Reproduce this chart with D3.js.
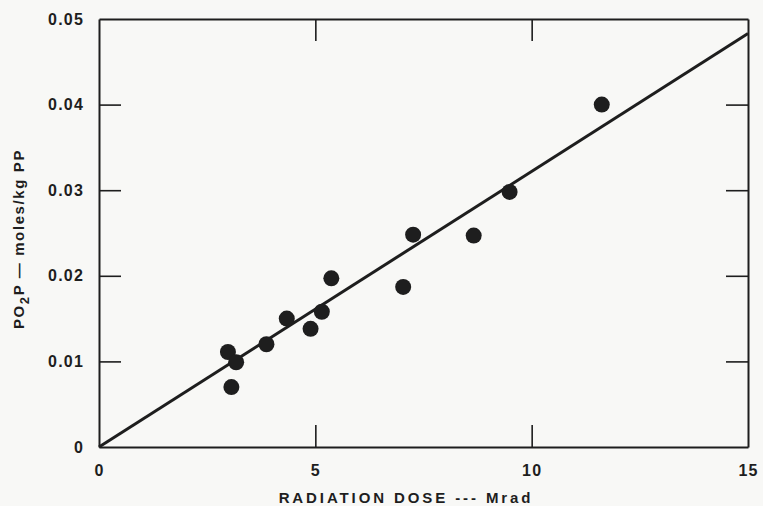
<!DOCTYPE html>
<html><head><meta charset="utf-8">
<script src="https://cdn.jsdelivr.net/npm/d3@7"></script>
<style>
html,body{margin:0;padding:0;background:#f8f8f6;}
svg{display:block;}
text{font-family:"Liberation Sans",Arial,Helvetica,sans-serif;fill:#1e1e1e;}
</style></head>
<body>
<svg id="chart" width="763" height="506"></svg>
<script>
// Data
const doseMrad = [2.98, 3.17, 3.06, 3.87, 4.34, 4.89, 5.15, 5.37, 7.03, 7.26, 8.66, 9.49, 11.62];
const po2pMolesPerKg = [0.0111, 0.0099, 0.0070, 0.0120, 0.0150, 0.0138, 0.0158, 0.0197, 0.0187, 0.0248, 0.0247, 0.0298, 0.0400];
const fitLineX = [0, 15];
const fitLineY = [0, 0.0483];
const xTickValues = [0, 5, 10, 15];
const yTickValues = [0, 0.01, 0.02, 0.03, 0.04, 0.05];
const yTickLabels = ["0", "0.01", "0.02", "0.03", "0.04", "0.05"];
const xTitle = "RADIATION DOSE --- Mrad";

const W = 763, H = 506;
const m = {left: 99, right: 15, top: 19, bottom: 59};
const ink = "#1e1e1e";
const svg = d3.select("#chart");

const x = d3.scaleLinear().domain([0, 15]).range([m.left, W - m.right]);
const y = d3.scaleLinear().domain([0, 0.05]).range([H - m.bottom, m.top]);

const tickLen = 22;
const fmtY = d => yTickLabels[yTickValues.indexOf(d)];

// Bottom axis (ticks inward)
const gB = svg.append("g").attr("transform", `translate(0,${H - m.bottom})`)
  .call(d3.axisBottom(x).tickValues(xTickValues).tickSizeInner(-tickLen).tickSizeOuter(0).tickPadding(18).tickFormat(d3.format("d")));
// Top axis
const gT = svg.append("g").attr("transform", `translate(0,${m.top})`)
  .call(d3.axisTop(x).tickValues(xTickValues).tickSizeInner(-tickLen).tickSizeOuter(0).tickFormat(""));
// Left axis
const gL = svg.append("g").attr("transform", `translate(${m.left},0)`)
  .call(d3.axisLeft(y).tickValues(yTickValues).tickSizeInner(-tickLen).tickSizeOuter(0).tickPadding(15).tickFormat(fmtY));
// Right axis
const gR = svg.append("g").attr("transform", `translate(${W - m.right},0)`)
  .call(d3.axisRight(y).tickValues(yTickValues).tickSizeInner(-tickLen).tickSizeOuter(0).tickFormat(""));

[gB, gT, gL, gR].forEach(g => {
  g.select(".domain").attr("stroke", ink).attr("stroke-width", 2);
  g.selectAll(".tick line").attr("stroke", ink).attr("stroke-width", 1.6);
  g.selectAll(".tick text").attr("font-size", 16).attr("font-weight", "bold")
    .attr("font-family", "'Liberation Sans', Arial, sans-serif").attr("fill", ink).style("letter-spacing", "1.2px");
});
// remove end ticks at frame corners
gB.selectAll(".tick line").filter(d => d === 0 || d === 15).remove();
gT.selectAll(".tick line").filter(d => d === 0 || d === 15).remove();
gL.selectAll(".tick line").filter(d => d === 0 || d === 0.05).remove();
gR.selectAll(".tick line").filter(d => d === 0 || d === 0.05).remove();

// Fit line
const line = d3.line().x(d => x(d[0])).y(d => y(d[1]));
svg.append("path").datum(fitLineX.map((v, i) => [v, fitLineY[i]]))
  .attr("d", line).attr("fill", "none").attr("stroke", ink).attr("stroke-width", 3);

// Points
svg.append("g").selectAll("circle").data(doseMrad.map((v, i) => [v, po2pMolesPerKg[i]]))
  .join("circle").attr("cx", d => x(d[0])).attr("cy", d => y(d[1])).attr("r", 8).attr("fill", ink);

// X title
svg.append("text").attr("x", 406).attr("y", 503).attr("text-anchor", "middle")
  .attr("font-size", 15).attr("font-weight", "bold").style("letter-spacing", "2.9px").text(xTitle);

// Y title
const yt = svg.append("text").attr("transform", "translate(24,239) rotate(-90)").attr("text-anchor", "middle")
  .attr("font-size", 15).attr("font-weight", "bold").style("letter-spacing", "1.6px");
yt.append("tspan").text("PO");
yt.append("tspan").attr("dy", 5).attr("font-size", 13).text("2");
yt.append("tspan").attr("dy", -5).text("P  —  moles/kg  PP");
</script>
</body></html>
